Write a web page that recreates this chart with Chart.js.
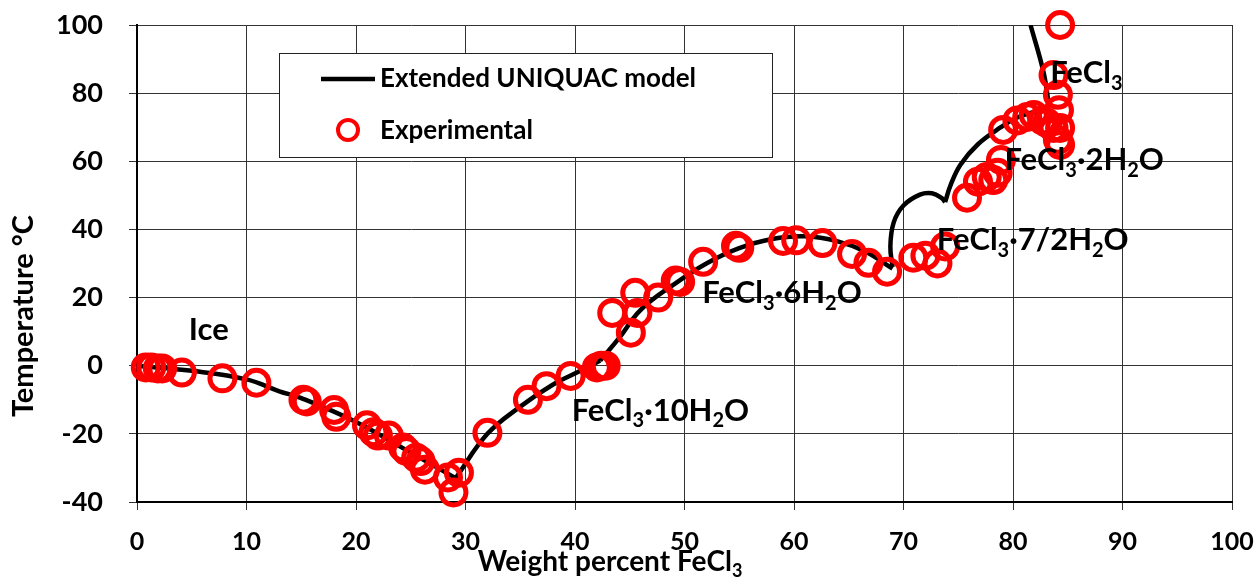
<!DOCTYPE html>
<html>
<head>
<meta charset="utf-8">
<script src="https://cdn.jsdelivr.net/npm/chart.js@4.4.1/dist/chart.umd.min.js"></script>
<style>
    html, body { margin: 0; padding: 0; background: #fff; }
    #wrap { width: 1254px; height: 581px; position: relative; }
</style>
</head>
<body>
<div id="wrap"><canvas id="phaseChart" width="1254" height="581"></canvas></div>
<script>
// experimental points (weight % FeCl3, temperature C)
const expX = [0.8, 1.3, 1.9, 2.3, 4.1, 7.8, 10.9, 15.2, 15.5, 18, 18.2, 21, 21.6, 22, 23, 24.3, 24.6, 25.5, 25.9, 26.3,
    28.4, 28.9, 29.4, 32, 35.7, 37.4, 39.6, 42, 42.4, 42.8, 43.4, 45.1, 45.5, 45.7, 47.6, 49.2, 49.6, 51.7, 54.7, 55,
    59, 60.2, 62.6, 65.3, 66.8, 68.5, 70.9, 72, 73.1, 73.8, 75.8, 76.8, 77.6, 78.2, 78.6, 78.9, 79.1, 80.4, 81.3, 81.9,
    82.7, 83.1, 83.7, 84.3, 84.1, 84.3, 84.2, 84.1, 83.7, 84.3];
const expY = [-0.5, -0.5, -0.8, -0.8, -2, -3.7, -5, -10, -10.5, -13, -15, -17.5, -19.5, -20.5, -20.5, -24, -25, -27, -28, -30.5,
    -32.8, -37.2, -31.4, -19.7, -10, -6, -3, -0.5, 0, 0, 15.5, 9.7, 21.4, 15.5, 20, 25, 24.6, 30.5, 35.2, 34.6,
    36.6, 36.8, 36, 32.8, 30.2, 27.6, 31.7, 32.3, 30, 35, 49.3, 54, 55.4, 54.5, 56.6, 60.4, 69.2, 72, 73, 73.6,
    72, 71.3, 69.8, 69.8, 66.3, 64.8, 75, 79.5, 85.3, 100];

// model branches
const iceX = [0, 5, 10, 13, 15, 20, 25, 29.1];
const iceY = [0, -1.5, -4, -7.5, -9.5, -16.5, -25.5, -33];
const deca10X = [29.1, 32, 35, 38, 40.5, 42.3];
const deca10Y = [-33, -20, -12, -5.5, -1.5, 1.5];
const hexa6X = [42.3, 44, 46, 49, 52, 55, 58, 61, 64, 66.5, 69];
const hexa6Y = [1.5, 8, 16.4, 23.8, 30, 34.5, 37.2, 38, 36.5, 33.5, 28.5];
const hemi7X = [69, 68.8, 69.1, 70, 71.5, 72.6, 73.5, 73.8];
const hemi7Y = [29, 35, 42, 47, 50.2, 50.6, 49.2, 48];
const di2X = [73.8, 74.3, 75.2, 76.8, 78.9, 80.5, 82.5, 83.3];
const di2Y = [48, 53, 59, 65, 70, 73, 75, 76];
const anhX = [83.3, 82.8, 81.6];
const anhY = [76, 86, 100];

const xTicks = [0, 10, 20, 30, 40, 50, 60, 70, 80, 90, 100];
const yTicks = [-40, -20, 0, 20, 40, 60, 80, 100];

// phase labels: [parts, x centre, y baseline]  parts = [text, isSub]
const phaseLabels = [
    [[['Ice', 0]], 6.55, 7.6],
    [[['FeCl', 0], ['3', 1], ['·10H', 0], ['2', 1], ['O', 0]], 47.8, -16.1],
    [[['FeCl', 0], ['3', 1], ['·6H', 0], ['2', 1], ['O', 0]], 58.9, 18.5],
    [[['FeCl', 0], ['3', 1], ['·7/2H', 0], ['2', 1], ['O', 0]], 81.8, 34],
    [[['FeCl', 0], ['3', 1], ['·2H', 0], ['2', 1], ['O', 0]], 86.5, 57.5],
    [[['FeCl', 0], ['3', 1]], 86.7, 83]
];

const FONT = 'Lato, "Open Sans", sans-serif';

function zip(xs, ys) {
    return xs.map((x, i) => ({ x: x, y: ys[i] }));
}

function drawRich(ctx, parts, x, y, size) {
    const subSize = Math.round(size * 0.65);
    let total = 0;
    parts.forEach(p => {
        ctx.font = `bold ${p[1] ? subSize : size}px ${FONT}`;
        total += ctx.measureText(p[0]).width;
    });
    let cx = x - total / 2;
    ctx.textBaseline = 'alphabetic';
    ctx.textAlign = 'left';
    parts.forEach(p => {
        ctx.font = `bold ${p[1] ? subSize : size}px ${FONT}`;
        ctx.fillText(p[0], cx, p[1] ? y + size * 0.22 : y);
        cx += ctx.measureText(p[0]).width;
    });
}

const decorPlugin = {
    id: 'decor',
    afterDatasetsDraw(chart) {
        const ctx = chart.ctx;
        const xs = chart.scales.x;
        const ys = chart.scales.y;
        ctx.save();
        ctx.fillStyle = '#000';
        phaseLabels.forEach(l => {
            drawRich(ctx, l[0], xs.getPixelForValue(l[1]), ys.getPixelForValue(l[2]), 31);
        });

        // legend box
        ctx.fillStyle = '#fff';
        ctx.fillRect(279, 53, 493, 104);
        ctx.strokeStyle = '#222';
        ctx.lineWidth = 1;
        ctx.strokeRect(279.5, 53.5, 493, 104);
        ctx.strokeStyle = '#000';
        ctx.lineWidth = 4.5;
        ctx.beginPath();
        ctx.moveTo(321, 79);
        ctx.lineTo(375, 79);
        ctx.stroke();
        ctx.strokeStyle = '#ff0000';
        ctx.lineWidth = 4;
        ctx.beginPath();
        ctx.arc(348, 130, 10, 0, Math.PI * 2);
        ctx.stroke();
        ctx.fillStyle = '#000';
        ctx.font = `bold 26px ${FONT}`;
        ctx.textBaseline = 'alphabetic';
        ctx.textAlign = 'left';
        ctx.fillText('Extended UNIQUAC model', 380, 87);
        ctx.fillText('Experimental', 380, 139);

        // axis titles
        drawRich(ctx, [['Weight percent FeCl', 0], ['3', 1]], 610, 571, 28);
        ctx.save();
        ctx.translate(33, 316);
        ctx.rotate(-Math.PI / 2);
        ctx.font = `bold 29px ${FONT}`;
        ctx.textAlign = 'center';
        ctx.textBaseline = 'alphabetic';
        ctx.fillText('Temperature \u00B0C', 0, 0);
        ctx.restore();
        ctx.restore();
    }
};

const modelStyle = {
    type: 'line',
    showLine: true,
    borderColor: '#000',
    borderWidth: 4.5,
    pointRadius: 0,
    tension: 0.4,
    fill: false,
    order: 2
};

const ctx = document.getElementById('phaseChart').getContext('2d');
new Chart(ctx, {
    type: 'scatter',
    data: {
        datasets: [
            {
                label: 'Experimental',
                data: zip(expX, expY),
                pointStyle: 'circle',
                pointRadius: 12.5,
                pointBorderWidth: 5,
                pointBorderColor: '#ff0000',
                pointBackgroundColor: 'rgba(0,0,0,0)',
                borderColor: '#ff0000',
                clip: false,
                order: 1
            },
            Object.assign({ label: 'Ice', data: zip(iceX, iceY) }, modelStyle),
            Object.assign({ label: '10H2O', data: zip(deca10X, deca10Y) }, modelStyle),
            Object.assign({ label: '6H2O', data: zip(hexa6X, hexa6Y) }, modelStyle),
            Object.assign({ label: '7/2H2O', data: zip(hemi7X, hemi7Y) }, modelStyle),
            Object.assign({ label: '2H2O', data: zip(di2X, di2Y) }, modelStyle),
            Object.assign({ label: 'FeCl3', data: zip(anhX, anhY) }, modelStyle)
        ]
    },
    options: {
        responsive: false,
        animation: false,
        layout: { padding: { top: 25, right: 22, left: 0, bottom: 0 } },
        plugins: {
            legend: { display: false },
            tooltip: { enabled: false }
        },
        scales: {
            x: {
                type: 'linear',
                min: 0,
                max: 100,
                afterBuildTicks: axis => { axis.ticks = xTicks.map(v => ({ value: v })); },
                afterFit: axis => {
                    axis.height = 79;
                    axis.paddingLeft = 0;
                    axis.paddingRight = 0;
                },
                ticks: {
                    color: '#000',
                    padding: 17,
                    maxRotation: 0,
                    font: { family: FONT, size: 25, weight: 'bold' }
                },
                grid: { color: '#333', lineWidth: 1, tickLength: 8 },
                border: { color: '#000', width: 2 }
            },
            y: {
                type: 'linear',
                min: -40,
                max: 100,
                afterBuildTicks: axis => { axis.ticks = yTicks.map(v => ({ value: v })); },
                afterFit: axis => {
                    axis.width = 137;
                    axis.paddingTop = 0;
                    axis.paddingBottom = 0;
                },
                ticks: {
                    color: '#000',
                    padding: 26,
                    font: { family: FONT, size: 27, weight: 'bold' }
                },
                grid: { color: '#333', lineWidth: 1, tickLength: 8 },
                border: { color: '#000', width: 2 }
            }
        }
    },
    plugins: [decorPlugin]
});
</script>
</body>
</html>
